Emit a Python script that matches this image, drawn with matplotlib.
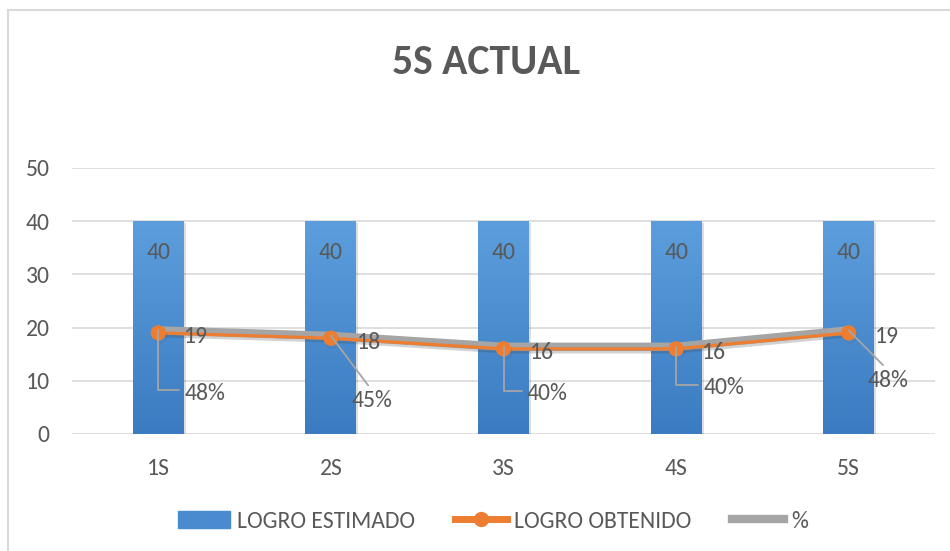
import matplotlib
matplotlib.use("Agg")
import matplotlib.pyplot as plt
import matplotlib.patheffects as pe
from matplotlib.patches import Rectangle
from matplotlib.lines import Line2D
from matplotlib.colors import LinearSegmentedColormap
import numpy as np

categories = ["1S", "2S", "3S", "4S", "5S"]
logro_estimado = [40, 40, 40, 40, 40]
logro_obtenido = [19, 18, 16, 16, 19]
porcentaje = [0.48, 0.45, 0.40, 0.40, 0.48]
title = "5S ACTUAL"

plt.rcParams['font.family'] = ['Carlito', 'DejaVu Sans']
TXT = "#595959"
FS = 17

fig = plt.figure(figsize=(9.5, 5.51), dpi=100)
W, H = 950, 551
ax = fig.add_axes([72 / W, 117 / H, (935 - 72) / W, (383 - 117) / H])

x = np.arange(len(categories))
bars = ax.bar(x, logro_estimado, width=0.295, color="#4A8BD0", zorder=2,
              label="LOGRO ESTIMADO")
cmap = LinearSegmentedColormap.from_list("g", ["#3B7BC1", "#5C9EDD"])
grad = np.linspace(0, 1, 256).reshape(-1, 1)
for b in bars:
    b.set_path_effects([pe.SimplePatchShadow(offset=(1.5, -1.5), alpha=0.15), pe.Normal()])
    bx, by = b.get_x(), b.get_y()
    im = ax.imshow(grad, extent=[bx, bx + b.get_width(), by, by + b.get_height()],
                   origin="lower", cmap=cmap, aspect="auto", zorder=2.1)
    im.set_clip_path(b)

# stacked line for % (Excel stacked line)
pct_stacked = [o + p for o, p in zip(logro_obtenido, porcentaje)]
shadow = [pe.SimpleLineShadow(offset=(1, -2), shadow_color="#404040", alpha=0.12),
          pe.Normal()]
ax.plot(x, pct_stacked, color="#A5A5A5", lw=6, zorder=3, solid_capstyle="butt",
        path_effects=shadow)
ax.plot(x, logro_obtenido, color="#ED7D31", lw=2.3, marker="o", ms=10,
        zorder=4, path_effects=shadow)

for xi, v in zip(x, logro_estimado):
    ax.annotate(f"{v}", (xi, v), xytext=(0, -31), textcoords="offset pixels",
                ha="center", va="center", fontsize=FS, color=TXT, zorder=5)
for xi, v in zip(x, logro_obtenido):
    ax.annotate(f"{v}", (xi, v), xytext=(38, -4), textcoords="offset pixels",
                ha="center", va="center", fontsize=FS, color=TXT, zorder=5)

offs = [(47, -63), (41, -65), (44, -47), (48, -41), (39, -50)]
conn = ["angle,angleA=0,angleB=90", "arc3", "angle,angleA=0,angleB=90",
        "angle,angleA=0,angleB=90", "arc3"]
rel = [(0, 0.65), (0.5, 1), (0, 0.65), (0, 0.65), (0.5, 1)]
for xi, v, p, o, c, r in zip(x, pct_stacked, porcentaje, offs, conn, rel):
    ax.annotate(f"{round(p * 100)}%", (xi, v), xytext=o, textcoords="offset pixels",
                ha="center", va="center", fontsize=FS, color=TXT, zorder=5,
                arrowprops=dict(arrowstyle="-", color="#A5A5A5", lw=1.3,
                                connectionstyle=c, shrinkA=2, shrinkB=0,
                                relpos=r))

ax.set_xlim(-0.5, 4.5)
ax.set_ylim(0, 50)
ax.set_yticks(range(0, 51, 10))
ax.set_xticks(x)
ax.set_xticklabels(categories)
ax.grid(axis="y", color="#D9D9D9", lw=1.2, zorder=0)
ax.set_axisbelow(True)
for s in ax.spines.values():
    s.set_visible(False)
ax.tick_params(axis="both", length=0, labelsize=FS, labelcolor=TXT)
ax.tick_params(axis="y", pad=16)
ax.tick_params(axis="x", pad=17)

fig.text(486 / W, 1 - 63 / H, title, ha="center", va="center", fontsize=30,
         fontweight="bold", color=TXT)

handles = [
    Rectangle((0, 0), 1, 1, color="#4A8BD0"),
    Line2D([0], [0], color="#ED7D31", lw=5, marker="o", ms=10),
    Line2D([0], [0], color="#A5A5A5", lw=6),
]
fig.legend(handles, ["LOGRO ESTIMADO", "LOGRO OBTENIDO", "%"], loc="center",
           bbox_to_anchor=(493 / W, 30 / H), ncol=3, frameon=False, fontsize=FS,
           labelcolor=TXT, handlelength=2.2, columnspacing=1.7, handletextpad=0.3)

# chart border (left and top edges visible)
fig.add_artist(Line2D([8 / W, 8 / W], [0, 1 - 10 / H], transform=fig.transFigure,
                      color="#D9D9D9", lw=1.5))
fig.add_artist(Line2D([8 / W, 1], [1 - 10 / H, 1 - 10 / H], transform=fig.transFigure,
                      color="#D9D9D9", lw=1.5))
fig.savefig("out.png", dpi=100)
